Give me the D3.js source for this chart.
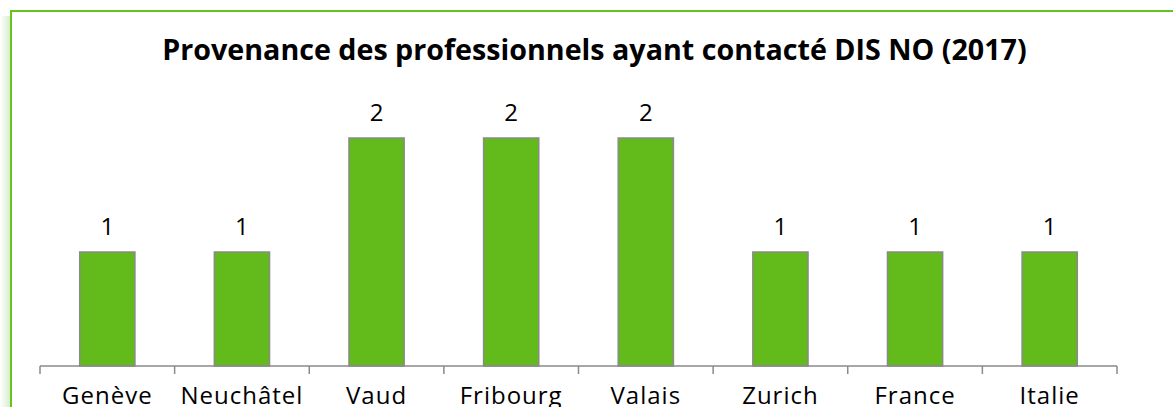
<!DOCTYPE html>
<html>
<head>
<meta charset="utf-8">
<script src="https://cdn.jsdelivr.net/npm/d3@7"></script>
<style>
  body { margin: 0; background: #fff; }
  svg { display: block; }
  text { font-family: "Open Sans", "DejaVu Sans", sans-serif; fill: #000; }
</style>
</head>
<body>
<svg class="chart_svg" width="1173" height="407"></svg>
<script>
/* Chart data */
let title_text = "Provenance des professionnels ayant contacté DIS NO (2017)";
let regions = ["Genève", "Neuchâtel", "Vaud", "Fribourg", "Valais", "Zurich", "France", "Italie"];
let counts = [1, 1, 2, 2, 2, 1, 1, 1];

let svg = d3.select("svg.chart_svg");
let width = +svg.attr("width");
let height = +svg.attr("height");

let plot = {left: 40, right: 1117, top: 138, bottom: 366};

/* left shadow of the frame */
let defs = svg.append("defs");
let grad = defs.append("linearGradient").attr("id", "shadow_grad");
grad.append("stop").attr("offset", "0%").attr("stop-color", "#ffffff");
grad.append("stop").attr("offset", "100%").attr("stop-color", "#d6ebc8");
svg.append("rect")
    .attr("x", 0).attr("y", 16)
    .attr("width", 11).attr("height", height)
    .attr("fill", "url(#shadow_grad)");

/* frame */
svg.append("rect")
    .attr("x", 11).attr("y", 11)
    .attr("width", width + 20).attr("height", height + 20)
    .attr("fill", "#fff")
    .attr("stroke", "#66c21e")
    .attr("stroke-width", 2);

/* title, scaled to fit the reference width */
let title = svg.append("text")
    .attr("x", 594.5).attr("y", 60)
    .attr("text-anchor", "middle")
    .attr("font-weight", "bold")
    .attr("font-size", 27)
    .text(title_text);
let tl = title.node().getComputedTextLength();
title.attr("font-size", 27 * 865 / tl);

let x = d3.scaleBand()
    .domain(regions)
    .range([plot.left, plot.right])
    .paddingInner(0.59)
    .paddingOuter(0.295);

let y = d3.scaleLinear()
    .domain([0, 2])
    .range([plot.bottom, plot.top]);

/* bars */
svg.selectAll(".bar")
    .data(regions)
    .enter()
    .append("rect")
    .attr("class", "bar")
    .attr("x", function(d){ return x(d); })
    .attr("y", function(d, i){ return y(counts[i]); })
    .attr("width", x.bandwidth())
    .attr("height", function(d, i){ return y(0) - y(counts[i]); })
    .attr("fill", "#63ba1b")
    .attr("stroke", "#8a8a8a")
    .attr("stroke-width", 1.5);

/* value labels */
svg.selectAll(".value")
    .data(regions)
    .enter()
    .append("text")
    .attr("class", "value")
    .attr("x", function(d){ return x(d) + x.bandwidth() / 2; })
    .attr("y", function(d, i){ return y(counts[i]) - 17; })
    .attr("text-anchor", "middle")
    .attr("font-size", 24)
    .text(function(d, i){ return counts[i]; });

/* category axis with ticks between the bands */
let axis_x = d3.scaleBand().domain(regions).range([plot.left, plot.right]);
let axis_g = svg.append("g").attr("transform", "translate(0," + plot.bottom + ")");
axis_g.append("line")
    .attr("x1", plot.left).attr("x2", plot.right)
    .attr("stroke", "#8a8a8a").attr("stroke-width", 1.5);
let tick_pos = regions.map(function(d){ return axis_x(d); }).concat([plot.right]);
axis_g.selectAll(".tick_line")
    .data(tick_pos)
    .enter()
    .append("line")
    .attr("class", "tick_line")
    .attr("x1", function(d){ return d; })
    .attr("x2", function(d){ return d; })
    .attr("y1", 0).attr("y2", 8)
    .attr("stroke", "#8a8a8a").attr("stroke-width", 1.5);
axis_g.selectAll(".cat_label")
    .data(regions)
    .enter()
    .append("text")
    .attr("class", "cat_label")
    .attr("x", function(d){ return axis_x(d) + axis_x.bandwidth() / 2; })
    .attr("y", 38)
    .attr("text-anchor", "middle")
    .attr("font-size", 24)
    .attr("letter-spacing", 1)
    .text(function(d){ return d; });
</script>
</body>
</html>
